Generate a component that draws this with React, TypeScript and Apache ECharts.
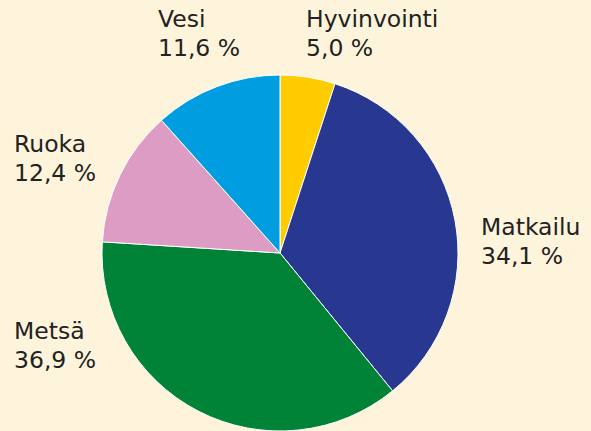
import React, { useEffect, useRef } from "react";
import * as echarts from "echarts";

const categories = ["Hyvinvointi", "Matkailu", "Metsä", "Ruoka", "Vesi"];
const values = [5.0, 34.1, 36.9, 12.4, 11.6];
const colors = ["#ffcc00", "#283891", "#008237", "#dc9cc4", "#009ee0"];
const labelPos: [number, number][] = [
  [306, 4],
  [481, 212],
  [14, 316],
  [14, 129],
  [158, 4],
];

export default function App() {
  const ref = useRef<HTMLDivElement>(null);
  useEffect(() => {
    if (!ref.current) return;
    const chart = echarts.init(ref.current, null, { renderer: "svg" });
    chart.setOption({
      animation: false,
      backgroundColor: "#fef4dc",
      series: [
        {
          type: "pie",
          center: [280, 253],
          radius: [0, 178],
          startAngle: 90,
          clockwise: true,
          data: categories.map((c, i) => ({
            name: c,
            value: values[i],
            itemStyle: { color: colors[i] },
          })),
          itemStyle: { borderColor: "#ffffff", borderWidth: 1 },
          label: {
            show: true,
            position: "outside",
            alignTo: "none",
            overflow: "none",
            formatter: (p: any) =>
              p.name + "\n" + p.value.toFixed(1).replace(".", ",") + " %",
            fontFamily: "DejaVu Sans",
            fontSize: 23.5,
            lineHeight: 29,
            color: "#222222",
          },
          labelLine: { show: false },
          labelLayout: (params: any) => {
            const p = labelPos[params.dataIndex];
            return { x: p[0], y: p[1], align: "left", verticalAlign: "top" };
          },
          emphasis: { disabled: true },
        },
      ],
    });
    return () => chart.dispose();
  }, []);
  return (
    <div
      ref={ref}
      style={{ width: 591, height: 431, position: "absolute", left: 0, top: 0 }}
    />
  );
}
